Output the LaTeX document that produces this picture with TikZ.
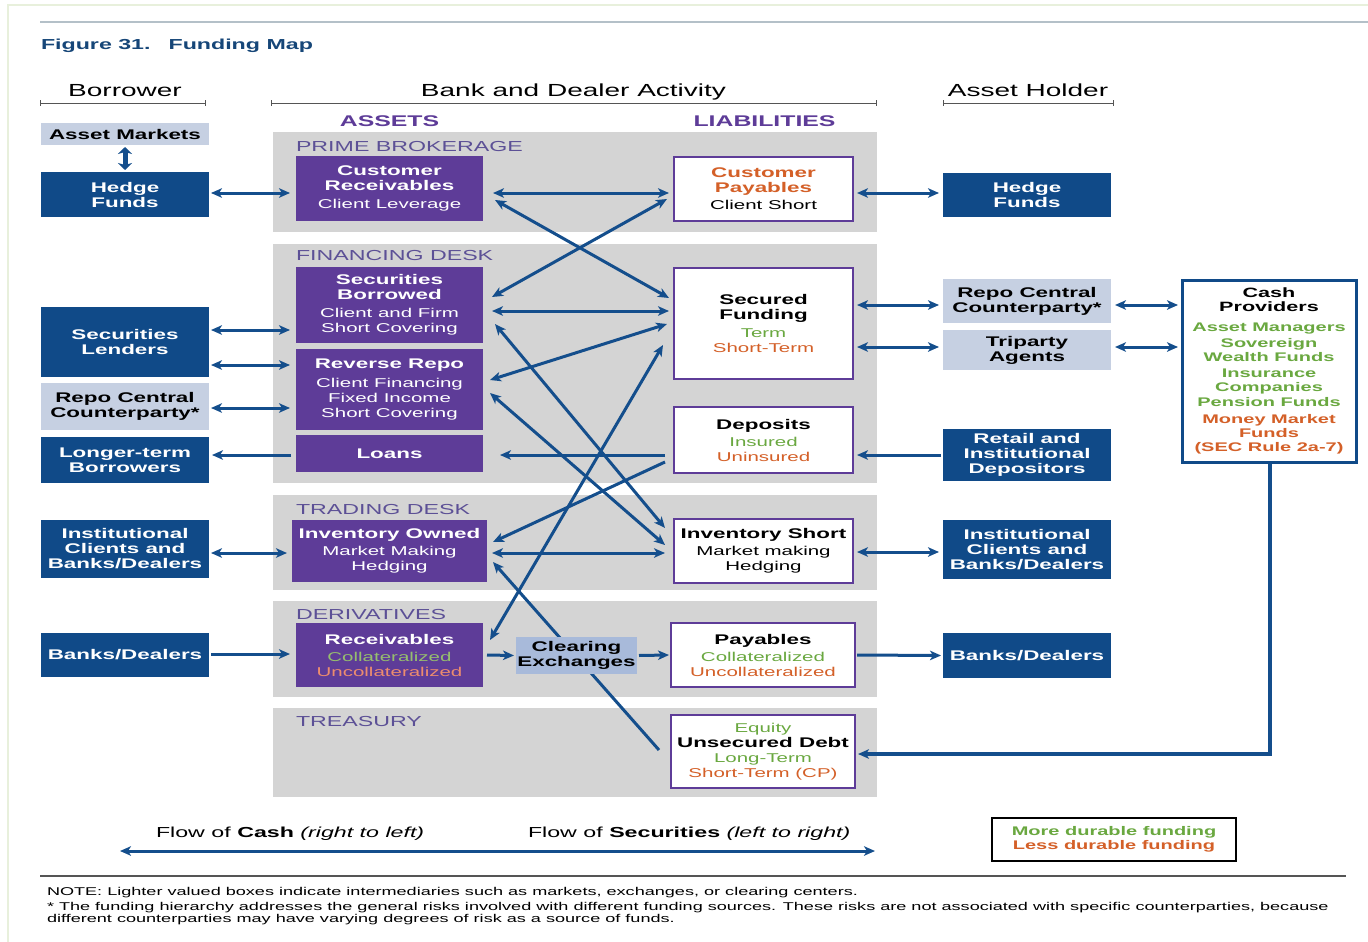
\documentclass[tikz,border=0pt]{standalone}
\usepackage{fontspec}
\setmainfont{Liberation Sans}[FakeStretch=1.6]
\usetikzlibrary{arrows.meta}

\definecolor{dkblue}{RGB}{16,74,136}
\definecolor{arrblue}{RGB}{20,78,140}
\definecolor{purp}{RGB}{94,60,152}
\definecolor{panelgray}{RGB}{212,212,212}
\definecolor{ltbox}{RGB}{198,208,226}
\definecolor{clrbox}{RGB}{168,186,218}
\definecolor{plab}{RGB}{92,80,150}
\definecolor{grn}{RGB}{106,168,64}
\definecolor{org}{RGB}{212,96,40}
\definecolor{grnp}{RGB}{150,190,110}
\definecolor{orgp}{RGB}{236,140,110}
\definecolor{ttlblue}{RGB}{22,70,120}
\definecolor{rulegray}{RGB}{85,85,85}
\definecolor{topline}{RGB}{180,192,200}
\definecolor{framecol}{RGB}{232,240,220}

\newcommand\BTf{\fontsize{14}{15}\selectfont\bfseries}
\newcommand\SBf{\fontsize{12.8}{15}\selectfont\mdseries}
\newcommand\CPf{\fontsize{12.5}{14}\selectfont\bfseries}

\pgfdeclarelayer{bg}
\pgfdeclarelayer{lines}
\pgfsetlayers{bg,lines,main}

\tikzset{
  every node/.style={inner sep=0pt, outer sep=0pt},
  panel/.style={fill=panelgray},
  plabel/.style={anchor=base west, text=plab, font=\fontsize{14.5}{15}\selectfont},
  darkbox/.style={fill=dkblue, text=white, align=center, font=\BTf},
  lightbox/.style={fill=ltbox, text=black, align=center, font=\BTf},
  assetbox/.style={fill=purp, text=white, align=center, font=\BTf},
  liabbox/.style={fill=white, draw=purp, line width=2pt, text=black, align=center, font=\BTf},
  hdr/.style={anchor=base, text=black, font=\fontsize{17.5}{18}\selectfont},
  sidehdr/.style={anchor=base, text=purp, font=\fontsize{15.5}{16}\selectfont\bfseries},
  hrule/.style={draw=rulegray, line width=1pt},
  conn/.style={draw=arrblue, line width=3pt},
  onehead/.style={conn, -{Stealth[length=11pt,width=9.5pt,inset=3pt]}},
  twohead/.style={conn, {Stealth[length=11pt,width=9.5pt,inset=3pt]}-{Stealth[length=11pt,width=9.5pt,inset=3pt]}},
  notetext/.style={anchor=base west, text=black, font=\fontsize{11.3}{12}\selectfont},
  flowtext/.style={anchor=base west, text=black, font=\fontsize{14.5}{15}\selectfont},
}

\begin{document}
\begin{tikzpicture}[x=1pt,y=-1pt]
\useasboundingbox (0,0) rectangle (1368,942);

% page, frame and activity panels
\begin{pgfonlayer}{bg}
\fill[white] (0,0) rectangle (1368,942);
\draw[framecol, line width=1.5pt] (8,942) -- (8,5) -- (1368,5);
\fill[panel] (273,132) rectangle (877,232);
\fill[panel] (273,244) rectangle (877,483);
\fill[panel] (273,495) rectangle (877,590);
\fill[panel] (273,601) rectangle (877,697);
\fill[panel] (273,708) rectangle (877,797);
\end{pgfonlayer}
\draw[topline, line width=2pt] (40,22) -- (1368,22);

% title
\node[anchor=base west, text=ttlblue, font=\fontsize{14.5}{15}\selectfont\bfseries] (title) at (41,49) {Figure 31.\hspace{18pt}Funding Map};

% column headers
\node[hdr] (hborrow) at (125,96) {Borrower};
\node[hdr] (hbank) at (573.5,96) {Bank and Dealer Activity};
\node[hdr] (hholder) at (1028,96) {Asset Holder};
\draw[hrule] (40,103) -- (205,103);
\draw[hrule] (40,100) -- (40,106) (205,100) -- (205,106);
\draw[hrule] (271,103) -- (876,103);
\draw[hrule] (271,100) -- (271,106) (876,100) -- (876,106);
\draw[hrule] (943,103) -- (1113,103);
\draw[hrule] (943,100) -- (943,106) (1113,100) -- (1113,106);

\node[sidehdr] (hassets) at (389.5,126.5) {ASSETS};
\node[sidehdr] (hliab) at (764.5,126.5) {LIABILITIES};

\node[plabel] (lpb) at (296,151) {PRIME BROKERAGE};
\node[plabel] (lfd) at (296,260) {FINANCING DESK};
\node[plabel] (ltd) at (296,514) {TRADING DESK};
\node[plabel] (ldv) at (296,619) {DERIVATIVES};
\node[plabel] (ltr) at (296,726) {TREASURY};

% borrower column
\node[lightbox, minimum width=168pt, minimum height=22pt] (amk) at (125,134) {Asset Markets};
\node[darkbox, minimum width=168pt, minimum height=45pt] (hfL) at (125,194.5) {Hedge\\Funds};
\node[darkbox, minimum width=168pt, minimum height=70pt] (slend) at (125,342) {Securities\\Lenders};
\node[lightbox, minimum width=168pt, minimum height=47pt] (rccpL) at (125,406.5) {Repo Central\\Counterparty*};
\node[darkbox, minimum width=168pt, minimum height=46pt] (ltb) at (125,460) {Longer-term\\Borrowers};
\node[darkbox, minimum width=168pt, minimum height=58pt] (icL) at (125,549) {Institutional\\Clients and\\Banks/Dealers};
\node[darkbox, minimum width=168pt, minimum height=44pt] (bdL) at (125,655) {Banks/Dealers};

% assets
\node[assetbox, minimum width=187pt, minimum height=65pt] (cr) at (389.5,188.5)
  {Customer\\Receivables\\[3pt]\SBf Client Leverage};
\node[assetbox, minimum width=187pt, minimum height=76pt] (sb) at (389.5,305)
  {Securities\\Borrowed\\[3pt]\SBf Client and Firm\\\SBf Short Covering};
\node[assetbox, minimum width=187pt, minimum height=81pt] (rr) at (389.5,389.5)
  {Reverse Repo\\[4pt]\SBf Client Financing\\\SBf Fixed Income\\\SBf Short Covering};
\node[assetbox, minimum width=187pt, minimum height=37pt] (loans) at (389.5,453.5) {Loans};
\node[assetbox, minimum width=195pt, minimum height=62pt] (io) at (389.5,551)
  {Inventory Owned\\[2pt]\SBf Market Making\\\SBf Hedging};
\node[assetbox, minimum width=187pt, minimum height=64pt] (rcv) at (389.5,655)
  {Receivables\\[2pt]\SBf\color{grnp}Collateralized\\\SBf\color{orgp}Uncollateralized};

% intermediary between the desks
\node[fill=clrbox, text=black, align=center, font=\BTf, minimum width=121pt, minimum height=37pt] (ce) at (576.5,655.5) {Clearing\\Exchanges};

% liabilities
\node[liabbox, minimum width=179pt, minimum height=64pt] (cp) at (763.5,189)
  {\color{org}Customer\\\color{org}Payables\\[2pt]\SBf Client Short};
\node[liabbox, minimum width=179pt, minimum height=111pt] (sf) at (763.5,323.5)
  {Secured\\Funding\\[3pt]\SBf\color{grn}Term\\\SBf\color{org}Short-Term};
\node[liabbox, minimum width=179pt, minimum height=66pt] (dep) at (763.5,440)
  {Deposits\\[2pt]\SBf\color{grn}Insured\\\SBf\color{org}Uninsured};
\node[liabbox, minimum width=179pt, minimum height=64pt] (is) at (763.5,551)
  {Inventory Short\\[2pt]\SBf Market making\\\SBf Hedging};
\node[liabbox, minimum width=184pt, minimum height=64pt] (pay) at (763,655)
  {Payables\\[2pt]\SBf\color{grn}Collateralized\\\SBf\color{org}Uncollateralized};
\node[liabbox, minimum width=184pt, minimum height=73pt] (ud) at (763,751.5)
  {\SBf\color{grn}Equity\\Unsecured Debt\\\SBf\color{grn}Long-Term\\\SBf\color{org}Short-Term (CP)};

% asset holder column
\node[darkbox, minimum width=168pt, minimum height=44pt] (hfR) at (1027,195) {Hedge\\Funds};
\node[lightbox, minimum width=168pt, minimum height=44pt] (rccpR) at (1027,301) {Repo Central\\Counterparty*};
\node[lightbox, minimum width=168pt, minimum height=40pt] (tri) at (1027,350) {Triparty\\Agents};
\node[darkbox, minimum width=168pt, minimum height=52pt] (retail) at (1027,455) {Retail and\\Institutional\\Depositors};
\node[darkbox, minimum width=168pt, minimum height=59pt] (icR) at (1027,549.5) {Institutional\\Clients and\\Banks/Dealers};
\node[darkbox, minimum width=168pt, minimum height=45pt] (bdR) at (1027,655.5) {Banks/Dealers};

\node[fill=white, draw=dkblue, line width=3pt, align=center, font=\CPf, text=black, minimum width=174pt, minimum height=182pt] (cash) at (1269,371)
  {\fontsize{13.5}{14}\selectfont Cash\\\fontsize{13.5}{14}\selectfont Providers\\[6pt]
   \color{grn}Asset Managers\\[2pt]
   \color{grn}Sovereign\\\color{grn}Wealth Funds\\[2pt]
   \color{grn}Insurance\\\color{grn}Companies\\[1pt]
   \color{grn}Pension Funds\\[3pt]
   \color{org}Money Market\\\color{org}Funds\\\color{org}(SEC Rule 2a-7)};

% legend
\node[draw=black, line width=2pt, fill=white, align=center, font=\CPf, minimum width=244pt, minimum height=43pt] (legend) at (1114,839.5)
  {\color{grn}More durable funding\\\color{org}Less durable funding};

% flows
\begin{pgfonlayer}{lines}
\draw[conn, line width=5pt, {Stealth[length=7pt,width=14pt,inset=2pt]}-{Stealth[length=7pt,width=14pt,inset=2pt]}]
  ([shift={(0,2)}]amk.south) -- ([shift={(0,-2)}]hfL.north);

% borrowers to assets
\draw[twohead] ([shift={(2,-1.5)}]hfL.east) -- ([shift={(-6,4.5)}]cr.west);
\draw[twohead] ([shift={(2,-12)}]slend.east) -- ([shift={(-6,25)}]sb.west);
\draw[twohead] ([shift={(2,23)}]slend.east) -- ([shift={(-6,-24.5)}]rr.west);
\draw[twohead] ([shift={(2,1.5)}]rccpL.east) -- ([shift={(-6,18.5)}]rr.west);
\draw[onehead] ([shift={(-5,1.5)}]loans.west) -- ([shift={(3,-5)}]ltb.east);
\draw[twohead] ([shift={(2,4)}]icL.east) -- ([shift={(-5,2)}]io.west);
\draw[onehead] ([shift={(2,-1)}]bdL.east) -- ([shift={(-6,-1)}]rcv.west);

% assets to liabilities
\draw[twohead] ([shift={(10,4.5)}]cr.east) -- ([shift={(-5,4)}]cp.west);
\draw[twohead] ([shift={(12,11.5)}]cr.east) -- ([shift={(-5,-25.5)}]sf.west);
\draw[twohead] ([shift={(9,-8)}]sb.east) -- ([shift={(-7,10)}]cp.west);
\draw[twohead] ([shift={(9,6)}]sb.east) -- ([shift={(-5,-12.5)}]sf.west);
\draw[twohead] ([shift={(7,-9.5)}]rr.east) -- ([shift={(-7,0.5)}]sf.west);
\draw[twohead] ([shift={(12,19)}]sb.east) -- ([shift={(-9,-23)}]is.west);
\draw[twohead] ([shift={(7,3.5)}]rr.east) -- ([shift={(-9,-6)}]is.west);
\draw[twohead] ([shift={(7,-15)}]rcv.east) -- ([shift={(-11,21.5)}]sf.west);
\draw[onehead] ([shift={(-9,22)}]dep.west) -- ([shift={(6,-9)}]io.east);
\draw[onehead] ([shift={(-9,15)}]dep.west) -- ([shift={(17,1.5)}]loans.east);
\draw[twohead] ([shift={(5,2)}]io.east) -- ([shift={(-9,2)}]is.west);
\draw[onehead] ([shift={(-12,-1.5)}]ud.west) -- ([shift={(6,11)}]io.east);
\draw[onehead] ([shift={(4,0)}]rcv.east) -- ([shift={(-2,0)}]ce.west);
\draw[onehead] ([shift={(2,0)}]ce.east) -- ([shift={(-2,0)}]pay.west);

% liabilities to asset holders
\draw[twohead] ([shift={(4,4)}]cp.east) -- ([shift={(-4,-2)}]hfR.west);
\draw[twohead] ([shift={(4,-18.5)}]sf.east) -- ([shift={(-4,4)}]rccpR.west);
\draw[twohead] ([shift={(4,23.5)}]sf.east) -- ([shift={(-4,-3)}]tri.west);
\draw[onehead] ([shift={(-2,0)}]retail.west) -- ([shift={(4,15)}]dep.east);
\draw[twohead] ([shift={(4,1)}]is.east) -- ([shift={(-4,2.5)}]icR.west);
\draw[onehead] ([shift={(2,0)}]pay.east) -- ([shift={(-2,0)}]bdR.west);
\draw[twohead] ([shift={(4,4)}]rccpR.east) -- ([shift={(-4,-66)}]cash.west);
\draw[twohead] ([shift={(4,-3)}]tri.east) -- ([shift={(-4,-24)}]cash.west);
\draw[onehead, line width=3.2pt] ([shift={(1,0)}]cash.south) |- ([shift={(3,2.5)}]ud.east);
\end{pgfonlayer}

% direction of flows
\node[flowtext] (fcash) at (156,837) {Flow of \textbf{Cash} \textit{(right to left)}};
\node[flowtext] (fsec) at (528,837) {Flow of \textbf{Securities} \textit{(left to right)}};
\coordinate (flowL) at (120,851);
\coordinate (flowR) at (875,851);
\draw[twohead] (flowL) -- (flowR);

% notes
\draw[rulegray, line width=2.5pt] (40,876) -- (1346,876);
\node[notetext] (n1) at (47,895) {NOTE: Lighter valued boxes indicate intermediaries such as markets, exchanges, or clearing centers.};
\node[notetext] (n2) at (47,910) {* The funding hierarchy addresses the general risks involved with different funding sources. These risks are not associated with specific counterparties, because};
\node[notetext] (n3) at (47,922) {different counterparties may have varying degrees of risk as a source of funds.};
\end{tikzpicture}
\end{document}
